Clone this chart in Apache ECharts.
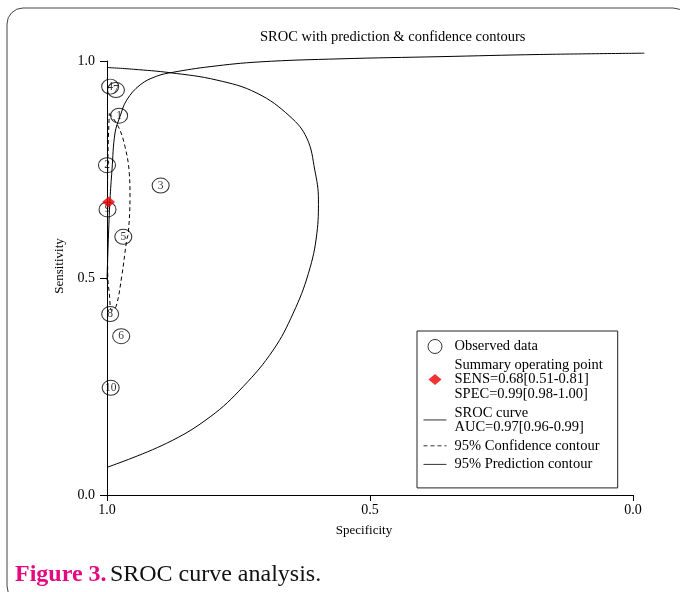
<!DOCTYPE html>
<html>
<head>
<meta charset="utf-8">
<script src="https://cdn.jsdelivr.net/npm/echarts@6/dist/echarts.min.js"></script>
<style>
  html, body { margin: 0; padding: 0; background: #fff; }
  #chart { width: 680px; height: 592px; }
</style>
</head>
<body>
<div id="chart"></div>
<script>
const SERIF = "'Liberation Serif', 'Times New Roman', serif";

// observed studies
const studyLabels = ['1', '2', '3', '4', '5', '6', '7', '8', '9', '10'];
const studySpec = [0.977, 1.000, 0.898, 0.994, 0.969, 0.973, 0.983, 0.994, 0.999, 0.993];
const studySens = [0.874, 0.760, 0.713, 0.941, 0.595, 0.366, 0.933, 0.417, 0.658, 0.247];

// summary operating point
const summarySpec = [0.997];
const summarySens = [0.675];

// SROC curve (runs a little past spec 0.0 in the original)
const srocSpec = [1.000, 0.9975, 0.9943, 0.9905, 0.9848, 0.9753, 0.9625, 0.937, 0.9055, 0.8745, 0.804, 0.709, 0.557, 0.367, 0.177, -0.0215];
const srocSens = [0.495, 0.588, 0.680, 0.749, 0.834, 0.872, 0.910, 0.945, 0.965, 0.974, 0.987, 0.998, 1.005, 1.010, 1.015, 1.018];

// 95% confidence contour
const confSpec = [0.9956, 0.9785, 0.9658, 0.9576, 0.9563, 0.9595, 0.9625, 0.9721, 0.9829, 0.9911, 0.9956, 0.9985, 0.999, 0.999, 0.998, 0.9956];
const confSens = [0.879, 0.849, 0.803, 0.741, 0.687, 0.603, 0.588, 0.503, 0.434, 0.426, 0.465, 0.503, 0.588, 0.680, 0.795, 0.879];

// 95% prediction contour
const predSpec = [0.9994, 0.887, 0.804, 0.741, 0.684, 0.646, 0.617, 0.601, 0.598, 0.605, 0.620, 0.652, 0.715, 0.791, 0.880, 0.950, 0.9994];
const predSens = [0.064, 0.119, 0.180, 0.250, 0.334, 0.419, 0.511, 0.603, 0.680, 0.749, 0.822, 0.872, 0.926, 0.956, 0.973, 0.981, 0.985];

const yTicks = ['0.0', '0.5', '1.0'];
const xTicks = ['0.0', '0.5', '1.0'];

const zip = (xs, ys) => xs.map((x, i) => [x, ys[i]]);

const nameObserved = 'Observed data';
const nameSummary = 'Summary operating point\nSENS=0.68[0.51-0.81]\nSPEC=0.99[0.98-1.00]';
const nameSroc = 'SROC curve\nAUC=0.97[0.96-0.99]';
const nameConf = '95% Confidence contour';
const namePred = '95% Prediction contour';

// legend keys for the lines: thin line, no dot in the middle
const lineKey = (name, type) => ({
  name: name,
  itemStyle: { opacity: 0 },
  lineStyle: { width: 1, color: '#333', type: type }
});

// the SROC line goes past the axis end, echarts clamps x to the axis range,
// so it sits on a hidden copy of the grid whose x range reaches a bit further
const plotLeft = 107, plotRight = 47, plotTop = 61, plotBottom = 97;
const pxPerUnit = 680 - plotLeft - plotRight;
const srocMin = -0.03;

const chart = echarts.init(document.getElementById('chart'));

const option = {
  animation: false,
  backgroundColor: '#fff',
  title: {
    text: 'SROC with prediction & confidence contours',
    left: 260,
    top: 30,
    padding: 0,
    textStyle: { fontFamily: SERIF, fontSize: 14.5, fontWeight: 'normal', color: '#000' }
  },
  grid: [
    { left: plotLeft, right: plotRight, top: plotTop, bottom: plotBottom },
    { left: plotLeft, right: plotRight + srocMin * pxPerUnit, top: plotTop, bottom: plotBottom }
  ],
  xAxis: [{
    type: 'value',
    inverse: true,
    min: 0, max: 1, interval: 0.5,
    name: 'Specificity',
    nameLocation: 'middle',
    nameGap: 29,
    nameTextStyle: { fontFamily: SERIF, fontSize: 13, color: '#000', padding: [0, 12, 0, 0] },
    axisLine: { onZero: false, lineStyle: { color: '#000', width: 1 } },
    axisTick: { length: 6, lineStyle: { color: '#000' } },
    axisLabel: {
      margin: 8, fontFamily: SERIF, fontSize: 14, color: '#000',
      formatter: v => xTicks[Math.round(v * 2)]
    },
    splitLine: { show: false }
  }, {
    type: 'value',
    gridIndex: 1,
    inverse: true,
    min: srocMin, max: 1,
    show: false
  }],
  yAxis: [{
    type: 'value',
    position: 'left',
    min: 0, max: 1, interval: 0.5,
    name: 'Sensitivity',
    nameLocation: 'middle',
    nameGap: 41,
    nameTextStyle: { fontFamily: SERIF, fontSize: 13, color: '#000', padding: [0, 0, 0, 24] },
    axisLine: { show: true, onZero: false, lineStyle: { color: '#000', width: 1 } },
    axisTick: { show: true, length: 7, lineStyle: { color: '#000' } },
    axisLabel: {
      margin: 12, fontFamily: SERIF, fontSize: 14, color: '#000',
      formatter: v => yTicks[Math.round(v * 2)]
    },
    splitLine: { show: false }
  }, {
    type: 'value',
    gridIndex: 1,
    min: 0, max: 1,
    show: false
  }],
  legend: {
    orient: 'vertical',
    left: 417,
    top: 331,
    padding: [8, 15, 16, 6],
    itemWidth: 23,
    itemHeight: 14,
    itemGap: 3.6,
    borderColor: '#222',
    borderWidth: 1,
    selectedMode: false,
    textStyle: { fontFamily: SERIF, fontSize: 14.5, lineHeight: 14.5, color: '#000', padding: [0, 0, 0, 3] },
    data: [
      { name: nameObserved, icon: 'circle', itemStyle: { color: 'rgba(0,0,0,0)', borderColor: '#000', borderWidth: 1 } },
      { name: nameSummary, icon: 'path://M-11.5,-7M11.5,7M0,-5.5L6.5,0L0,5.5L-6.5,0Z', itemStyle: { color: '#ee0000', borderWidth: 0 } },
      lineKey(nameSroc, 'solid'),
      lineKey(nameConf, [4, 3]),
      lineKey(namePred, 'solid')
    ]
  },
  series: [
    {
      name: namePred,
      type: 'line',
      data: zip(predSpec, predSens),
      symbol: 'none',
      smooth: 0.4,
      clip: false,
      itemStyle: { color: '#000' },
      lineStyle: { color: '#000', width: 1 }
    },
    {
      name: nameSroc,
      type: 'line',
      xAxisIndex: 1,
      yAxisIndex: 1,
      data: zip(srocSpec, srocSens),
      symbol: 'none',
      smooth: 0.4,
      clip: false,
      itemStyle: { color: '#000' },
      lineStyle: { color: '#000', width: 1 }
    },
    {
      name: nameConf,
      type: 'line',
      data: zip(confSpec, confSens),
      symbol: 'none',
      smooth: 0.4,
      clip: false,
      itemStyle: { color: '#000' },
      lineStyle: { color: '#000', width: 1, type: [4, 3] }
    },
    {
      name: nameObserved,
      type: 'scatter',
      data: zip(studySpec, studySens),
      symbol: 'circle',
      symbolSize: [17, 15],
      clip: false,
      itemStyle: { color: 'rgba(0,0,0,0)', borderColor: '#000', borderWidth: 1 },
      label: {
        show: true,
        position: 'inside',
        fontFamily: SERIF,
        fontSize: 11.5,
        color: '#000',
        formatter: p => studyLabels[p.dataIndex]
      }
    },
    {
      name: nameSummary,
      type: 'scatter',
      data: zip(summarySpec, summarySens),
      symbol: 'diamond',
      symbolSize: [13, 11],
      clip: false,
      itemStyle: { color: '#ee0000' },
      z: 5
    }
  ],
  graphic: [
    {
      type: 'rect',
      shape: { x: 7, y: 8, width: 682, height: 594, r: 16 },
      style: { fill: 'none', stroke: '#444', lineWidth: 1 },
      silent: true
    },
    {
      type: 'text',
      left: 15,
      top: 563,
      style: {
        text: '{a|Figure 3.} {b|SROC curve analysis.}',
        rich: {
          a: { fontFamily: SERIF, fontSize: 24, fontWeight: 'bold', fill: '#e5097f' },
          b: { fontFamily: SERIF, fontSize: 24, fill: '#111' }
        }
      }
    }
  ]
};

chart.setOption(option);
</script>
</body>
</html>
